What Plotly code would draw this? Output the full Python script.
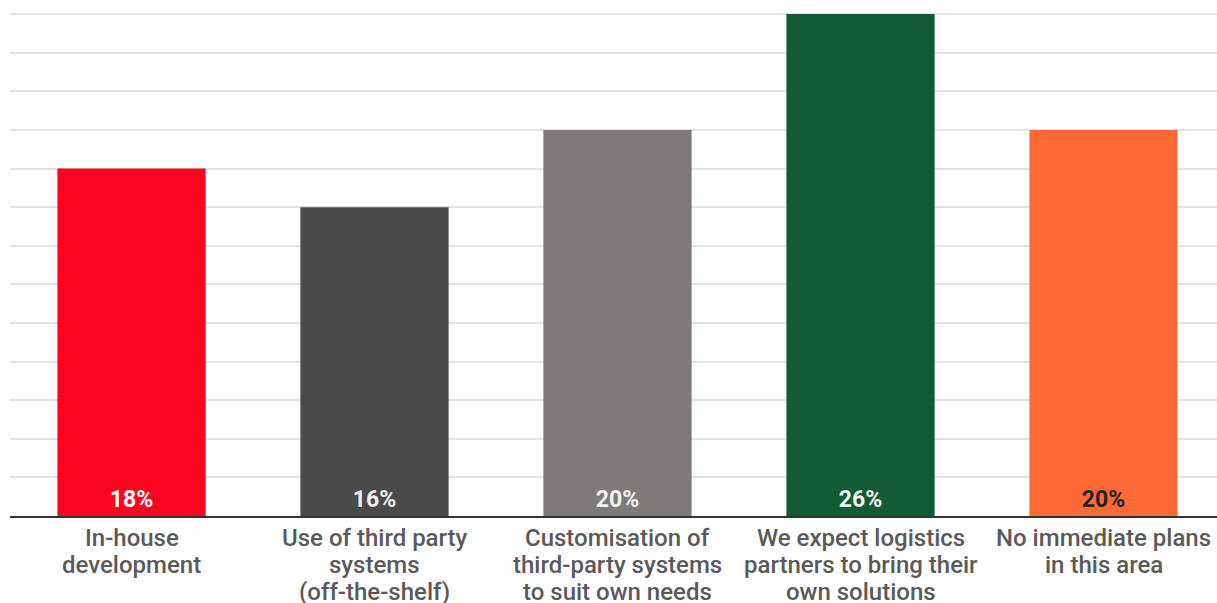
import plotly.graph_objects as go

categories = [
    "In-house<br>development",
    "Use of third party<br>systems<br>(off-the-shelf)",
    "Customisation of<br>third-party systems<br>to suit own needs",
    "We expect logistics<br>partners to bring their<br>own solutions",
    "No immediate plans<br>in this area",
]
values = [18, 16, 20, 26, 20]
bar_colors = ["#fd0420", "#4a4a4a", "#7e7a79", "#125b35", "#fe6a35"]
label_colors = ["#ffffff", "#eeeeee", "#f2f2f2", "#f2f2f2", "#222222"]

positions = list(range(len(categories)))

fig = go.Figure(
    go.Bar(
        x=positions,
        y=values,
        width=0.61,
        marker=dict(color=bar_colors, line=dict(width=0)),
        texttemplate="%{y}%",
        textposition="inside",
        insidetextanchor="start",
        textangle=0,
        textfont=dict(family="Roboto", size=23, color=label_colors, weight=700),
        hoverinfo="skip",
    )
)

# Category labels under the axis, one annotation per line for tighter leading
line_gap = 27
for pos, label in zip(positions, categories):
    for i, line in enumerate(label.split("<br>")):
        fig.add_annotation(
            x=pos,
            y=0,
            xref="x",
            yref="y",
            text=line,
            showarrow=False,
            xanchor="center",
            yanchor="middle",
            yshift=-(22 + i * line_gap),
            font=dict(family="Roboto", size=24, color="#5a5a5a", weight=500),
        )

fig.update_layout(
    width=1217,
    height=603,
    margin=dict(l=10, r=0, t=0, b=87),
    paper_bgcolor="white",
    plot_bgcolor="white",
    showlegend=False,
    font=dict(family="Roboto", color="#5a5a5a"),
)

fig.update_xaxes(
    range=[-0.5, 4.467],
    tickvals=positions,
    showticklabels=False,
    showgrid=False,
    showline=True,
    linecolor="#333333",
    linewidth=2,
    ticks="",
    zeroline=False,
)

fig.update_yaxes(
    range=[0, 26.73],
    dtick=2,
    showticklabels=False,
    showgrid=True,
    gridcolor="#e2e2e2",
    gridwidth=1.5,
    zeroline=False,
    ticks="",
)

fig.write_html("out.html")
